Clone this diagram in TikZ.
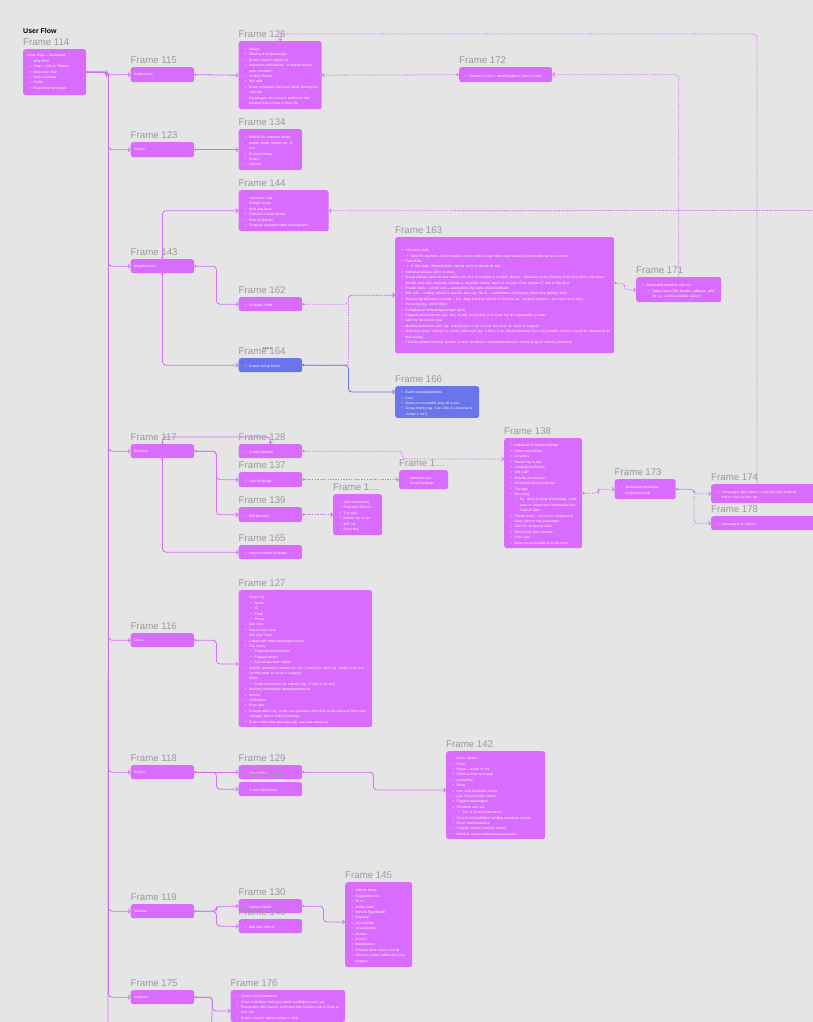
\documentclass[tikz,border=0pt]{standalone}
\usepackage{fontspec}
\setmainfont{Liberation Sans}
\usetikzlibrary{arrows.meta}
\definecolor{bg}{HTML}{E5E5E5}
\definecolor{mag}{HTML}{D96CFF}
\definecolor{magl}{HTML}{D56EF7}
\definecolor{blu}{HTML}{6A75EC}
\definecolor{ttlc}{HTML}{9A9A9A}
\newcommand\bu[1]{\par\hangindent=7pt\hangafter=1\noindent\hspace*{3pt}\makebox[4pt][l]{\textbullet}#1}
\newcommand\bb[1]{\par\hangindent=12.5pt\hangafter=1\noindent\hspace*{8.5pt}\makebox[4pt][l]{\textbullet}#1}
\tikzset{
 mbox/.style={fill=mag, rounded corners=2.5pt, anchor=north west, inner xsep=3.5pt, inner ysep=2pt, align=left, text=white, font=\fontsize{3.4}{5.4}\selectfont},
 bbox/.style={fill=blu},
 ttl/.style={anchor=base west, inner sep=0pt, text=ttlc, font=\fontsize{9.7}{11}\selectfont},
 con/.style={draw=magl, line width=0.8pt, rounded corners=3.5pt, -{Straight Barb[length=1.8pt,width=4pt]}},
 dcon/.style={con, dash pattern=on 1.3pt off 1.3pt},
 bcon/.style={con, draw=blu},
 sdot/.style={{Circle[length=2.2pt,fill=white]}-{Straight Barb[length=1.8pt,width=4pt]}}
}
\newcommand\FR[8][]{%
 \pgfmathsetmacro\tw{#5-7}%
 \node[mbox,#1, text width=\tw pt, minimum height=#6pt] (#2) at (#3,#4) {#8\par};
 \node[ttl] at ([yshift=3.8pt]#2.north west) {#7};}
\begin{document}
\begin{tikzpicture}[x=1pt,y=-1pt]
\useasboundingbox (0,0) rectangle (813,1022);
\clip (0,0) rectangle (813,1022);
\fill[bg] (0,0) rectangle (813,1022);
\node[anchor=base west, inner sep=0pt, font=\bfseries\fontsize{7}{8}\selectfont] (uf) at (23,34) {User Flow};

\FR{f114}{23}{49}{63}{46}{Frame 114}{\noindent Home Page -- Dashboard\bu{Why EPIS}\bu{Stats + Link to Tableau}\bu{Interactive Map}\bu{Hello message}\bu{Profile}\bu{Environmental impact}}
\FR{f115}{130.5}{67}{63.5}{15}{Frame 115}{Notifications}
\FR{f123}{130.5}{142}{63.5}{15}{Frame 123}{Search}
\FR{f143}{130.5}{259}{63.5}{14}{Frame 143}{Map/Services?}
\FR{f117}{130.5}{444}{63.5}{14}{Frame 117}{Bookings}
\FR{f116}{130.5}{633}{63.5}{14}{Frame 116}{Users}
\FR{f118}{130.5}{765}{63.5}{14}{Frame 118}{Drivers}
\FR{f119}{130.5}{904}{63.5}{14}{Frame 119}{Vehicles}
\FR{f175}{130.5}{990}{63.5}{14}{Frame 175}{Incidents}

\FR{f126}{238.5}{41}{83}{68}{Frame 126}{\bu{Delays}\bu{Missing driver/passenger}\bu{Drivers haven't signed on}\bu{Inspection notifications - if vehicle doesn't pass checklist?}\bu{Incident Report}\bu{Will calls}\bu{Driver schedules that have failed sending/not seen yet}\bu{Passengers who haven't confirmed their booking that is close to their trip}}
\FR{f134}{238.5}{129}{63.5}{41}{Frame 134}{\bu{Search for customer details (name, email, contact no. ID no.)}\bu{Booking history}\bu{Drivers}\bu{Vehicles}}
\FR{f144}{238.5}{190}{90}{41}{Frame 144}{\bu{Interactive map}\bu{Multiple zones}\bu{Shift play-back}\bu{Field/out-of-area drivers}\bu{Seat availability}\bu{Temporal stream/incident management}}
\FR{f162}{238.5}{297}{63.5}{14}{Frame 162}{\bu{Schedule shifts}}
\FR[bbox]{f164}{238.5}{358}{63.5}{14}{Frame 164}{\bu{Create Group Event}}
\node[anchor=base west, inner sep=0pt, font=\fontsize{2.6}{3}\selectfont] (p4) at (263,349) {Point 4};
\FR{f163}{395}{237}{219}{116}{Frame 163}{\bu{Volunteer shifts}\bb{Ideal for overtime, 45min breaks, shorter shifts, longer trips (outer areas), preferentially set to a vehicle}\bu{Paid shifts}\bb{8, 9hr shifts, 30min breaks, can be set to a vehicle as well}\bu{Individual pickups (door-to-door)}\bu{Group pickups (door-to-door and/or one pick up location to multiple clients) -- Manually create itinerary, fixed drop times and stops, flexible start time, manually allocate a `separate vehicle' which is not part of the regular CT day-to-day fleet}\bu{Private trade -- school runs -- assigned to the same drivers/vehicles}\bu{Will calls -- holding vehicle to specific area (eg. file 0) -- confirmation of bookings when time getting closer}\bu{Manual trip allocation override -- (eg. drag and drop vehicle on timeline eg. in-transit position -- you can't move this)}\bu{Recurring (eg. every Wed)}\bu{Compliance/certificate/passenger alerts}\bu{Flagged vehicle/drivers (eg. they usually would drive it en route but are unavailable at date)}\bu{Alert for no service days}\bu{Mobility restrictions alert (eg. requires pax to be in a car this week as result of surgery)}\bu{Matching certain vehicles to certain addresses (eg. if there is an offroad driveway then only suitable vehicles should be dispatched for that pickup)}\bu{Flexible/variable booking window (if more flexibility is wanted/permitted for overall program density purposes)}}
\FR[bbox]{f166}{395}{386}{84}{28}{Frame 166}{\bu{Event name/details/time}\bu{Cost}\bu{Notes on accessible drop-off zones}\bu{Group history (eg. Can click if a lost time is cluster 1 set?)}}
\FR{f171}{636}{277}{85}{25}{Frame 171}{\bu{Automated timeslots sent out}\bb{Option here (Text location, address, vehicle) vs. whole schedule option?}}
\FR{f172}{459}{67}{93}{15}{Frame 172}{\bu{Refresh as trip is travelling/driver closes it view}}

\FR{f128}{238.5}{444}{63.5}{14}{Frame 128}{\bu{Create Booking}}
\FR{f137}{238.5}{472}{63.5}{15}{Frame 137}{\bu{View Bookings}}
\FR{f139}{238.5}{507}{63.5}{15}{Frame 139}{\bu{Edit Booking}}
\FR{f165}{238.5}{545}{63.5}{14}{Frame 165}{\bu{Import external bookings}}
\FR{f1a}{399}{470}{49}{19}{Frame 1…}{\bu{Individual trips}\bu{Group bookings}}
\FR{f1b}{333}{494}{49}{41}{Frame 1…}{\bu{Add companions}\bu{Restricted Drivers}\bu{Trip type}\bu{Return trip or not}\bu{Will call}\bu{Recurring}}
\FR{f138}{504}{438}{78}{110}{Frame 138}{\bu{Individual or Group booking?}\bu{Select times/dates}\bu{Locations}\bu{Return trip or not}\bu{Companions/Carers}\bu{Will Call?}\bu{Mobility Assistance?}\bu{Restricted Drivers/vehicles}\bu{Trip type}\bu{Recurring}\bb{Eg. client is away Wednesday, could want to cancel next Wednesday but keep all after}\bu{Private trade -- school run assigned to same vehicle only passenger}\bu{Alert for no service days}\bu{Manual trip time override}\bu{Price type}\bu{Notes on accessible drop-off zones}}
\FR{f173}{614.5}{479}{61}{20}{Frame 173}{\bu{Automated notification text/phone/email}}
\FR{f174}{711}{484}{110}{19}{Frame 174}{\bu{Passengers who haven't confirmed their booking\newline that is close to their trip}}
\FR{f178}{711}{516}{110}{14}{Frame 178}{\bu{Passengers to confirm}}

\FR{f127}{238.5}{590}{133.5}{137}{Frame 127}{\bu{Search by}\bb{Name}\bb{ID}\bb{Email}\bb{Phone}\bu{Add User}\bu{Export User Data}\bu{Edit User Data}\bu{Linked with other passengers/carers}\bu{Trip history}\bb{Preferred driver/vehicle}\bb{Flagged drivers}\bb{Cancellation/late history}\bu{Mobility assistance needed (or not) / restrictions alert (eg. needs to be in a car this week as result of surgery)}\bu{Notes}\bb{Detail instructions for address (eg. if hard to access)}\bu{Booking confirmation library/preferences}\bu{Service}\bu{Verification}\bu{Price type}\bu{Custom alerts (eg. home care package client that needs approval from case manager before making booking)}\bu{Driver notes from past trips (eg. use side entrance)}}

\FR{f129}{238.5}{765}{63.5}{14}{Frame 129}{\bu{View profile}}
\FR{f141}{238.5}{782}{63.5}{14}{Frame 141}{\bu{Create New Driver}}
\FR{f142}{446}{751}{99}{88}{Frame 142}{\bu{Driver details}\bu{Photo}\bu{Status -- active or not}\bu{Shifts (current and past)}\bu{Availability}\bu{Roles}\bu{Last vehicle/vehicle history}\bu{Last Route/vehicle history}\bu{Flagged passengers}\bu{Schedule sent out}\bb{Text or email preferences?}\bu{Sent \& not read/failed sending schedules history}\bu{Driver communication}\bu{Pre/post vehicle checklist history}\bu{Match to certain addresses/passengers}}

\FR{f130}{238.5}{899}{63.5}{14}{Frame 130}{\bu{Vehicle Details}}
\FR{f146}{238.5}{919}{63.5}{14}{Frame 146}{\bu{Add new Vehicle}}
\FR{f145}{345}{882}{67}{85}{Frame 145}{\bu{Vehicle Name}\bu{Registration no.}\bu{ID no.}\bu{Active times}\bu{Vehicle Type/Model}\bu{Capacity}\bu{Accessibility}\bu{Unavailability}\bu{Routes}\bu{Drivers}\bu{Maintenance}\bu{Pre/post drive check records}\bu{Match to certain addresses/ passengers}}
\FR{f176}{230.5}{990}{114.5}{0}{Frame 176}{\bu{Delays during transport}\bu{Driver schedules that have failed sending/not seen yet}\bu{Passengers who haven't confirmed their booking that is close to their trip}\bu{Drivers haven't signed on/late to shift}}

\coordinate (spineend) at (108,1030);
\coordinate (b175) at (211.5,1030);
\coordinate (e144) at (820,210.5);

% main spine and branches
\draw[con,-] (f114.east) -- ++(22,0) -- (spineend);
\draw[con,sdot] (f114.east) -- ++(20,0) |- (f115.west);
\foreach \t in {f123,f143,f117,f116,f118,f119,f175}
  \draw[con] (f114.east) -- ++(22,0) |- (\t.west);
\draw[con,sdot] (f115.east) -- (f126.west);
\draw[con,sdot] (f123.east) -- (f134.west);
% map/services
\draw[con,sdot] (f143.north) |- (f144.west);
\draw[con,sdot] (f143.east) -- ++(22,0) |- (f162.west);
\draw[con,sdot] (f143.south) |- (f164.west);
\draw[dcon,sdot] (f162.east) -- ++(46,0) |- (f163.west);
\draw[dcon] (f164.east) -- ++(46,0) |- (f163.west);
\draw[bcon,sdot] (f164.east) -- ++(46,0) |- ([yshift=-6pt]f166.north west);
\draw[dcon,sdot] ([yshift=12pt]f163.east) -- ++(10,0) |- (f171.west);
\draw[dcon] (f171.north) |- (f172.east);
\draw[dcon,sdot] (f172.west) -- (f126.east);
\draw[dcon] (e144) -- (f144.east);
\draw[dcon] ([xshift=46pt]f174.north west) -- ++(0,-450) -| (f126.north);
% bookings
\draw[con,sdot] (f117.north) -- ++(0,-7) -| (f128.north);
\draw[con,sdot] (f117.east) -- ++(22,0) |- (f137.west);
\draw[con] (f117.east) -- ++(22,0) |- (f139.west);
\draw[con,sdot] (f117.south) |- (f165.west);
\draw[dcon,sdot] (f128.east) -- ++(100,0) |- ([yshift=-21pt]f138.north west);
\draw[dcon,sdot] (f137.east) -- (f1a.west);
\draw[dcon,sdot] (f139.east) -- (f1b.west);
\draw[dcon,sdot] (f138.east) -- ++(16,0) |- (f173.west);
\draw[dcon,sdot] (f173.east) -- ++(18,0) |- (f174.west);
\draw[dcon] (f173.east) -- ++(18,0) |- (f178.west);
% users
\draw[con,sdot] (f116.east) -- ++(22,0) |- ([yshift=-74pt]f127.north west);
% drivers
\draw[con,sdot] (f118.east) -- (f129.west);
\draw[con] (f118.east) -- ++(22,0) |- (f141.west);
\draw[con,sdot] (f129.east) -- ++(71,0) |- ([yshift=-39pt]f142.north west);
% vehicles
\draw[con,sdot] (f119.east) -- ++(22,0) |- (f130.west);
\draw[con] (f119.east) -- ++(22,0) |- (f146.west);
\draw[con,sdot] (f130.east) -- ++(21,0) |- ([yshift=-40pt]f145.north west);
% incidents
\draw[con,sdot] (f175.east) -- ++(18,0) |- ([yshift=-21pt]f176.north west);
\draw[con,-] (f175.east) -- ++(18,0) -- (b175);
\end{tikzpicture}
\end{document}
